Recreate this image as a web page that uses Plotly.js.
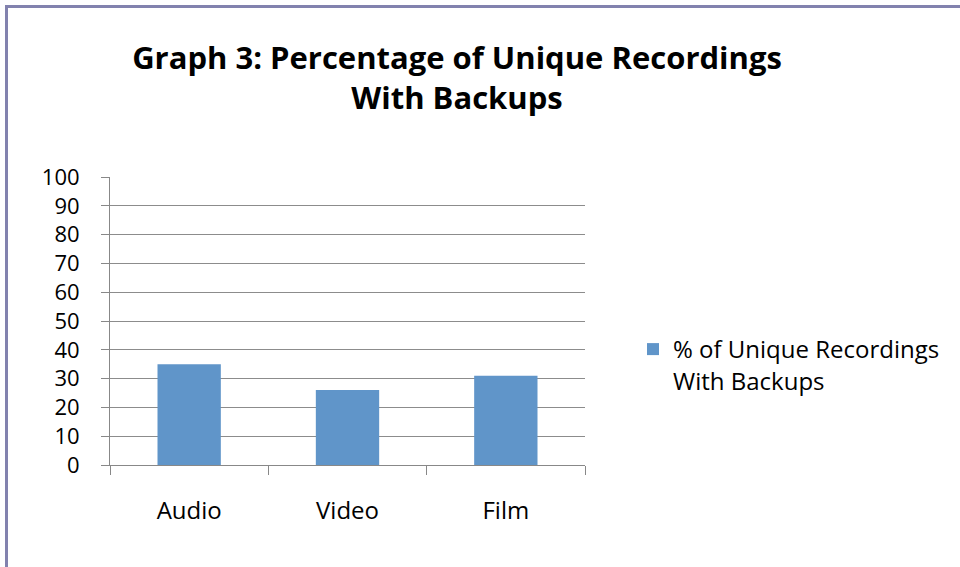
<!DOCTYPE html>
<html>
<head>
<meta charset="utf-8">
<script src="https://cdn.plot.ly/plotly-3.0.1.min.js"></script>
<style>
html,body{margin:0;padding:0;background:#fff;}
#chart{width:960px;height:567px;}
</style>
</head>
<body>
<div id="chart"></div>
<script>
const categories = ["Audio", "Video", "Film"];
const values = [35, 26, 31];
const seriesName = "% of Unique Recordings<br>With Backups";
const yTicks = [0, 10, 20, 30, 40, 50, 60, 70, 80, 90, 100];

const FONT = "'Open Sans', 'Noto Sans', sans-serif";
const W = 960, H = 567;
const L = 110, R = 585, T = 177, B = 465;
const pw = R - L, ph = B - T;
const px = p => (p - L) / pw;
const py = p => (B - p) / ph;

const trace = {
  type: "bar",
  x: categories,
  y: values,
  name: seriesName,
  marker: {color: "#6095C9", line: {color: "#6095C9", width: 0}},
  showlegend: true,
  hoverinfo: "x+y"
};

const layout = {
  width: W, height: H,
  paper_bgcolor: "#ffffff",
  plot_bgcolor: "#ffffff",
  margin: {l: L, r: W - R, t: T, b: H - B, pad: 0},
  font: {family: FONT, color: "#000000", size: 22},
  title: {
    text: "<b>Graph 3: Percentage of Unique Recordings<br>With Backups</b>",
    font: {family: FONT, size: 31, color: "#000000"},
    x: 457 / W, xanchor: "center", xref: "container",
    y: 1 - 69 / H, yanchor: "middle", yref: "container"
  },
  bargap: 0.6,
  xaxis: {
    type: "category",
    showgrid: false,
    showline: true, linecolor: "#888888", linewidth: 1,
    ticks: "outside", ticklen: 9, tickcolor: "#888888", tickwidth: 1,
    tickson: "boundaries",
    ticklabelstandoff: 24,
    tickfont: {family: FONT, size: 24, color: "#000000"},
    zeroline: false,
    fixedrange: true
  },
  yaxis: {
    range: [0, 100],
    tickmode: "array",
    tickvals: yTicks,
    ticktext: yTicks.map(String),
    showgrid: true, gridcolor: "#8c8c8c", gridwidth: 1,
    showline: true, linecolor: "#888888", linewidth: 1,
    ticks: "outside", ticklen: 8, tickcolor: "#888888", tickwidth: 1,
    ticklabelstandoff: 17,
    tickfont: {family: FONT, size: 22, color: "#000000"},
    zeroline: false,
    fixedrange: true
  },
  legend: {
    x: px(633), xanchor: "left",
    y: py(365), yanchor: "middle",
    valign: "top",
    font: {family: FONT, size: 24, color: "#000000"},
    bgcolor: "rgba(0,0,0,0)",
    itemwidth: 30,
    tracegroupgap: 0
  },
  shapes: [{
    type: "rect", xref: "paper", yref: "paper",
    x0: px(6.5), x1: px(980), y0: py(6.5), y1: py(590),
    line: {color: "#8282AE", width: 3},
    fillcolor: "rgba(0,0,0,0)",
    layer: "below"
  }]
};

Plotly.newPlot("chart", [trace], layout, {displayModeBar: false, staticPlot: true});
</script>
</body>
</html>
